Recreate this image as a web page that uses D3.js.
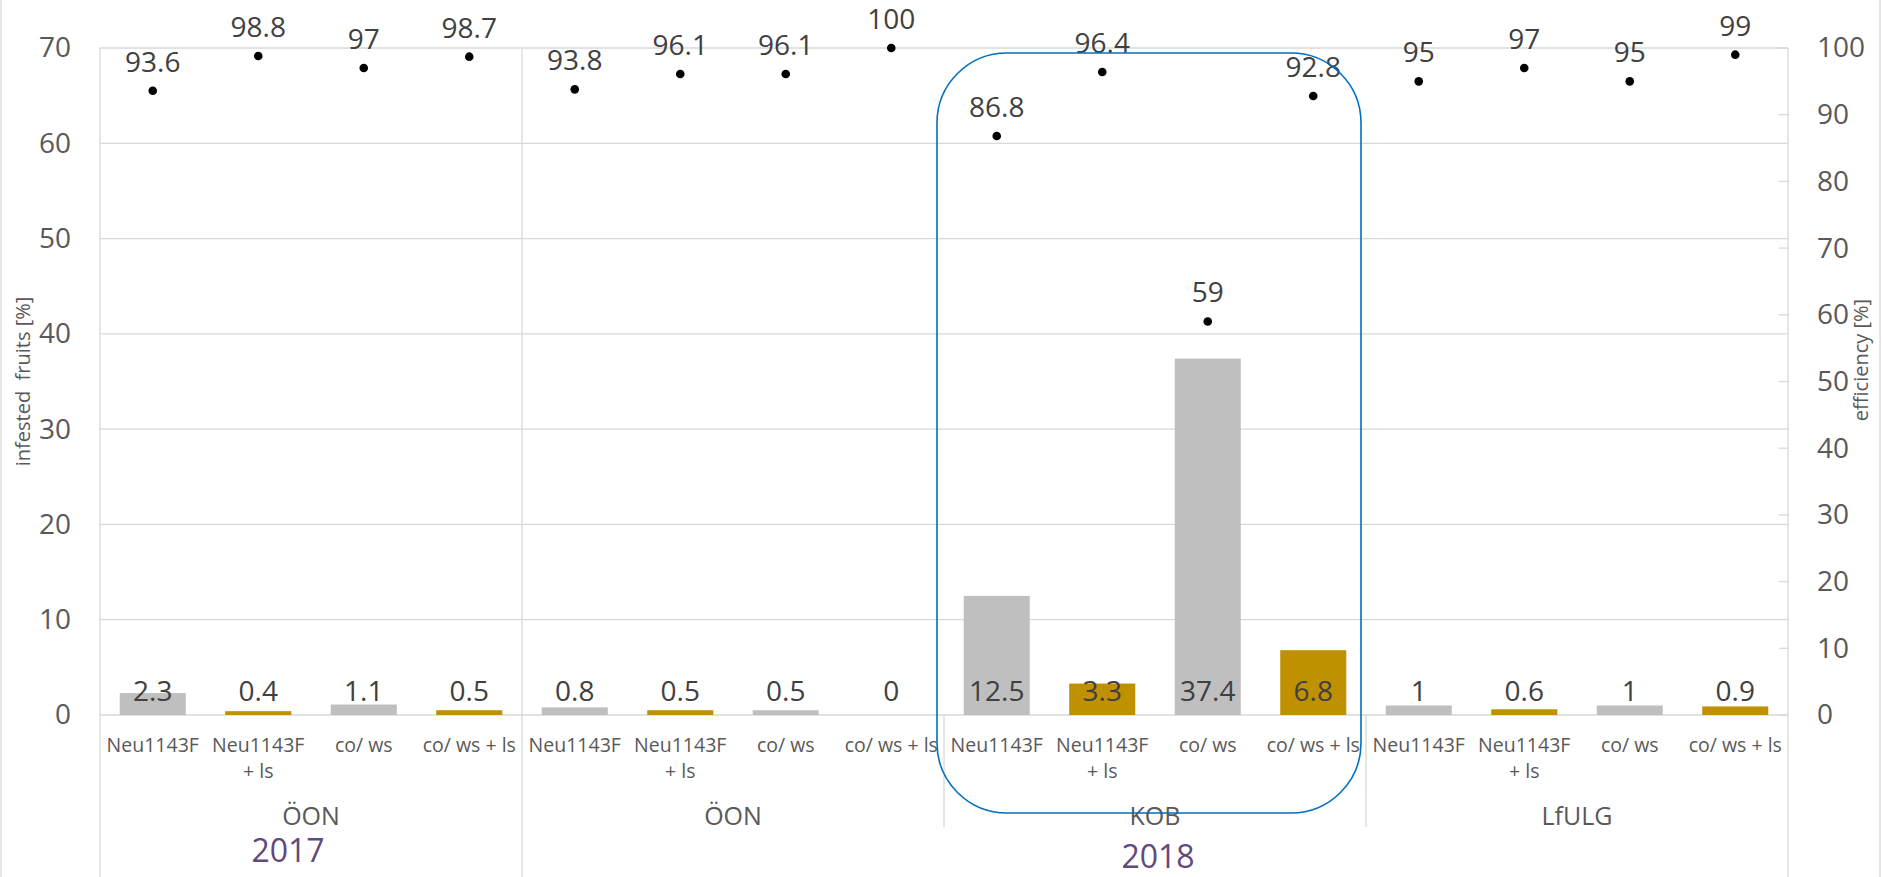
<!DOCTYPE html>
<html>
<head>
<meta charset="utf-8">
<script src="https://cdn.jsdelivr.net/npm/d3@7"></script>
<style>
  html, body { margin: 0; padding: 0; background: #fff; }
  svg text { font-family: "Open Sans", "Noto Sans", sans-serif; }
</style>
</head>
<body>
<svg id="chart" width="1882" height="877"></svg>
<script>
// Trial sites (outer category level) and treatments (inner level)
const sites = ["ÖON", "ÖON", "KOB", "LfULG"];
const treatments = ["Neu1143F", "Neu1143F + ls", "co/ ws", "co/ ws + ls"];

// Infested fruits [%] per site × treatment (bars, left axis)
const infested = [2.3, 0.4, 1.1, 0.5,
                  0.8, 0.5, 0.5, 0,
                  12.5, 3.3, 37.4, 6.8,
                  1, 0.6, 1, 0.9];

// Efficiency [%] per site × treatment (dots, right axis)
const efficiency = [93.6, 98.8, 97, 98.7,
                    93.8, 96.1, 96.1, 100,
                    86.8, 96.4, 59, 92.8,
                    95, 97, 95, 99];

const leftTicks = [0, 10, 20, 30, 40, 50, 60, 70];
const rightTicks = [0, 10, 20, 30, 40, 50, 60, 70, 80, 90, 100];

// Season labels and the site block each one sits under
const years = ["2017", "2018"];
const yearSite = [0, 2];
const highlightSite = 2;

// ---- layout ----
const W = 1882, H = 877;
const plot = { left: 100, right: 1788, top: 48, bottom: 715 };
const grid = "#D9D9D9";
const axisText = "#595959";
const labelText = "#404040";

const svg = d3.select("#chart");
svg.append("rect").attr("width", W).attr("height", H).attr("fill", "#fff");

// chart area border (left/right edges)
svg.append("line").attr("x1", 1).attr("x2", 1).attr("y1", 0).attr("y2", H).attr("stroke", grid).attr("stroke-width", 1.3);
svg.append("line").attr("x1", W - 2).attr("x2", W - 2).attr("y1", 0).attr("y2", H).attr("stroke", grid).attr("stroke-width", 1.3);

const rows = infested.map((v, i) => ({
  i,
  site: Math.floor(i / treatments.length),
  treatment: treatments[i % treatments.length],
  infested: v,
  efficiency: efficiency[i]
}));

const x = d3.scaleBand()
  .domain(rows.map(d => d.i))
  .range([plot.left, plot.right])
  .paddingInner(0.374)
  .paddingOuter(0.187);

const yL = d3.scaleLinear().domain([0, 70]).range([plot.bottom, plot.top]);
const yR = d3.scaleLinear().domain([0, 100]).range([plot.bottom, plot.top]);

const step = x.step();
const siteStart = s => plot.left + s * treatments.length * step;
const siteCenter = s => siteStart(s) + treatments.length * step / 2;

// horizontal gridlines (left axis)
svg.append("g").selectAll("line").data(leftTicks).join("line")
  .attr("x1", plot.left).attr("x2", plot.right)
  .attr("y1", d => yL(d)).attr("y2", d => yL(d))
  .attr("stroke", grid).attr("stroke-width", 1.3);

// vertical frame lines
const vline = (xx, y1, y2) => svg.append("line")
  .attr("x1", xx).attr("x2", xx).attr("y1", y1).attr("y2", y2)
  .attr("stroke", grid).attr("stroke-width", 1.3);
vline(plot.left, plot.top, H);
vline(plot.right, plot.top, H);
vline(siteStart(1), plot.top, H);            // season divider
vline(siteStart(2), plot.bottom, 827);
vline(siteStart(3), plot.bottom, 827);

// left axis labels
const leftAxis = d3.axisLeft(yL).tickValues(leftTicks).tickSize(0).tickPadding(29);
const gl = svg.append("g").attr("transform", `translate(${plot.left},0)`).call(leftAxis);
gl.select(".domain").remove();
gl.selectAll("text").attr("font-size", 28).attr("fill", axisText)
  .style("font-family", '"Open Sans", sans-serif');

// right axis with inside ticks
const rightAxis = d3.axisRight(yR).tickValues(rightTicks).tickSize(0).tickPadding(29);
const gr = svg.append("g").attr("transform", `translate(${plot.right},0)`).call(rightAxis);
gr.select(".domain").remove();
gr.selectAll("text").attr("font-size", 28).attr("fill", axisText)
  .style("font-family", '"Open Sans", sans-serif');
svg.append("g").selectAll("line").data(rightTicks).join("line")
  .attr("x1", plot.right - 9).attr("x2", plot.right)
  .attr("y1", d => yR(d)).attr("y2", d => yR(d))
  .attr("stroke", grid).attr("stroke-width", 1.3);

// axis titles
svg.append("text")
  .attr("transform", `translate(22,${(plot.top + plot.bottom) / 2}) rotate(-90)`)
  .attr("text-anchor", "middle").attr("dominant-baseline", "central")
  .attr("font-size", 20).attr("fill", axisText)
  .text("infested\u00a0 fruits [%]");
svg.append("text")
  .attr("transform", `translate(1860,360) rotate(-90)`)
  .attr("text-anchor", "middle").attr("dominant-baseline", "central")
  .attr("font-size", 20).attr("fill", axisText)
  .text("efficiency [%]");

// bars
const isLs = t => /\+ ls$/.test(t);
svg.append("g").selectAll("rect").data(rows).join("rect")
  .attr("x", d => x(d.i))
  .attr("width", x.bandwidth())
  .attr("y", d => yL(d.infested))
  .attr("height", d => yL(0) - yL(d.infested))
  .attr("fill", d => isLs(d.treatment) ? "#BF9000" : "#BFBFBF");

// bar value labels (inside base)
svg.append("g").selectAll("text").data(rows).join("text")
  .attr("x", d => x(d.i) + x.bandwidth() / 2)
  .attr("y", plot.bottom - 14)
  .attr("text-anchor", "middle")
  .attr("font-size", 28).attr("fill", labelText)
  .text(d => d.infested);

// efficiency dots + labels
svg.append("g").selectAll("circle").data(rows).join("circle")
  .attr("cx", d => x(d.i) + x.bandwidth() / 2)
  .attr("cy", d => yR(d.efficiency))
  .attr("r", 4.3)
  .attr("fill", "#000");
svg.append("g").selectAll("text").data(rows).join("text")
  .attr("x", d => x(d.i) + x.bandwidth() / 2)
  .attr("y", d => yR(d.efficiency) - 19)
  .attr("text-anchor", "middle")
  .attr("font-size", 28).attr("fill", labelText)
  .text(d => d.efficiency);

// treatment labels, wrapped to the category width
const tl = svg.append("g").selectAll("text").data(rows).join("text")
  .attr("x", d => x(d.i) + x.bandwidth() / 2)
  .attr("y", 752)
  .attr("text-anchor", "middle")
  .attr("font-size", 19.5).attr("fill", axisText);
tl.each(function (d) {
  const t = d3.select(this);
  const words = d.treatment.split(" ");
  const lines = [];
  let cur = [];
  const probe = t.append("tspan");
  words.forEach(w => {
    const trial = cur.concat(w).join(" ");
    probe.text(trial);
    if (probe.node().getComputedTextLength() > step - 4 && cur.length) {
      lines.push(cur.join(" "));
      cur = [w];
    } else cur.push(w);
  });
  lines.push(cur.join(" "));
  probe.remove();
  lines.forEach((ln, k) => {
    t.append("tspan").attr("x", x(d.i) + x.bandwidth() / 2)
      .attr("dy", k === 0 ? 0 : 26).text(ln);
  });
});

// site labels
svg.append("g").selectAll("text").data(sites).join("text")
  .attr("x", (d, s) => siteCenter(s))
  .attr("y", 825)
  .attr("text-anchor", "middle")
  .attr("font-size", 25).attr("fill", axisText)
  .text(d => d);

// season labels
const yearPlacement = [{ dx: -23, y: 862 }, { dx: 3, y: 868 }];
svg.append("g").selectAll("text").data(years).join("text")
  .attr("x", (d, k) => siteCenter(yearSite[k]) + yearPlacement[k].dx)
  .attr("y", (d, k) => yearPlacement[k].y)
  .attr("text-anchor", "middle")
  .attr("font-size", 32).attr("fill", "#604A7B")
  .text(d => d);

// highlight frame around the KOB block
const hx0 = siteStart(highlightSite) - 7;
const hx1 = siteStart(highlightSite + 1) - 5;
svg.append("rect")
  .attr("x", hx0).attr("y", yR(100) + 5)
  .attr("width", hx1 - hx0).attr("height", 813 - (yR(100) + 5))
  .attr("rx", 70).attr("ry", 70)
  .attr("fill", "none").attr("stroke", "#0070C0").attr("stroke-width", 1.6);
</script>
</body>
</html>
